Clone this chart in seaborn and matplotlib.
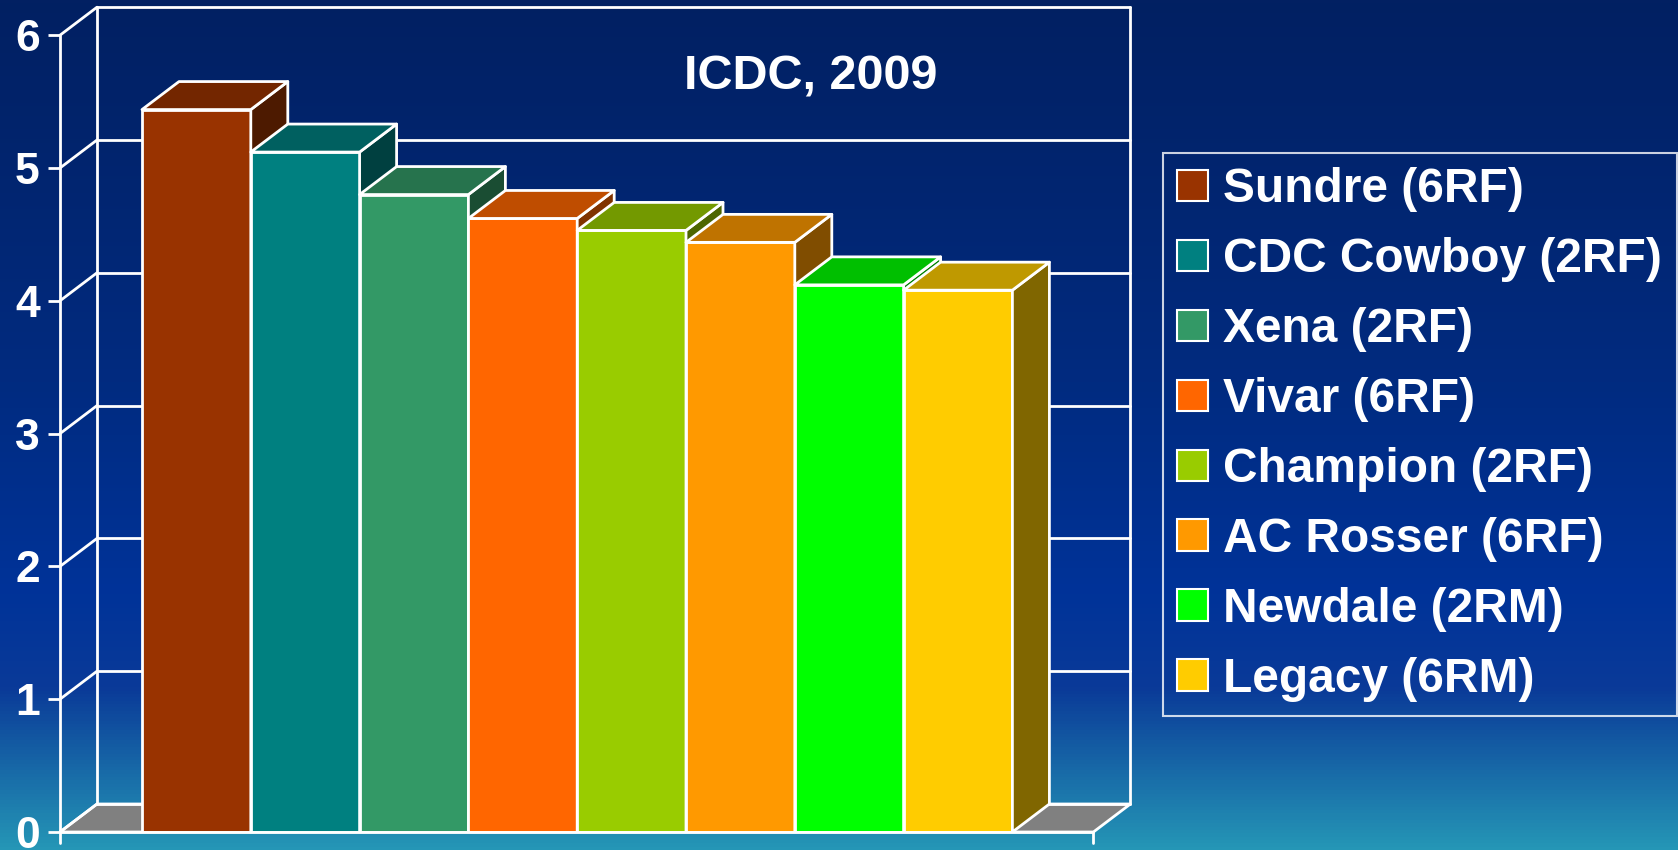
import numpy as np
import pandas as pd
import matplotlib
matplotlib.use("Agg")
import matplotlib.pyplot as plt
from matplotlib.patches import Polygon, Patch
from matplotlib.colors import LinearSegmentedColormap, to_rgb
import seaborn as sns

# ---------------- data ----------------
varieties = ["Sundre (6RF)", "CDC Cowboy (2RF)", "Xena (2RF)", "Vivar (6RF)",
             "Champion (2RF)", "AC Rosser (6RF)", "Newdale (2RM)", "Legacy (6RM)"]
values = [5.44, 5.12, 4.80, 4.62, 4.53, 4.44, 4.12, 4.08]
bar_colors = ["#993300", "#008080", "#339966", "#FF6600",
              "#99CC00", "#FF9900", "#00FF00", "#FFCC00"]
yticks = [0, 1, 2, 3, 4, 5, 6]
title = "ICDC, 2009"

df = pd.DataFrame({"variety": varieties, "value": values})

sns.set_theme(style="white")
plt.rcParams["font.family"] = ["Liberation Sans", "DejaVu Sans"]
plt.rcParams["font.weight"] = "bold"

W, H = 1678, 850
fig = plt.figure(figsize=(W / 100, H / 100), dpi=100)

# background gradient
bg = fig.add_axes([0, 0, 1, 1], zorder=-10)
cmap = LinearSegmentedColormap.from_list(
    "bg", [(0.0, "#022062"), (0.45, "#012b80"), (0.70, "#003399"),
           (0.81, "#0a3a98"), (1.0, "#2596b6")])
grad = np.linspace(0, 1, 256).reshape(-1, 1)
bg.imshow(grad, aspect="auto", cmap=cmap, extent=[0, 1, 0, 1], origin="upper")
bg.set_axis_off()

# geometry (pixels -> data)
ux, uy = 108.8, 132.8          # px per data unit
x0px, y0px = 60, 832           # front-left origin in pixels (from top)
xmin = -0.5 - (142 - x0px) / ux
xmax_front = 7.5 + (1093 - 1012) / ux
DX, DY = 37 / ux, 28 / uy      # depth offset in data units
xmax = xmax_front + DX
ymax = 6 + DY

left = x0px / W
bottom = (H - y0px) / H
width = (xmax - xmin) * ux / W
height = ymax * uy / H
ax = fig.add_axes([left, bottom, width, height])
ax.set_facecolor("none")

sns.barplot(data=df, x="variety", y="value", hue="variety", palette=bar_colors,
            width=1.0, edgecolor="white", linewidth=2, legend=False, ax=ax,
            saturation=1)

ax.set_xlim(xmin, xmax)
ax.set_ylim(0, ymax)
for s in ax.spines.values():
    s.set_visible(False)
ax.set_xticks([])
ax.set_xlabel("")
ax.set_ylabel("")
ax.set_yticks(yticks)
ax.set_yticklabels([str(t) for t in yticks], color="white", fontsize=32,
                   fontweight="bold")
ax.tick_params(axis="y", length=8.6, width=2, color="white", pad=6, left=True)

lw = 2
wc = "white"
# floor
ax.add_patch(Polygon([(xmin, 0), (xmax_front, 0), (xmax, DY), (xmin + DX, DY)],
                     closed=True, facecolor="#808080", edgecolor=wc, lw=lw,
                     zorder=1, clip_on=False))
# back wall gridlines and frame
for t in yticks:
    ax.plot([xmin + DX, xmax], [t + DY, t + DY], color=wc, lw=lw, zorder=2,
            clip_on=False)
    ax.plot([xmin, xmin + DX], [t, t + DY], color=wc, lw=lw, zorder=2,
            clip_on=False)
ax.plot([xmin + DX, xmin + DX], [DY, 6 + DY], color=wc, lw=lw, zorder=2, clip_on=False)
ax.plot([xmax, xmax], [DY, 6 + DY], color=wc, lw=lw, zorder=2, clip_on=False)
# front axis line (extends a bit below zero)
ax.plot([xmin, xmin], [-11 / uy, 6], color=wc, lw=lw, zorder=2, clip_on=False)
ax.plot([xmin, xmax_front], [0, 0], color=wc, lw=lw, zorder=40, clip_on=False)
ax.plot([xmax_front, xmax_front], [-11 / uy, 0], color=wc, lw=lw, zorder=40,
        clip_on=False)


def shade(c, f):
    r, g, b = to_rgb(c)
    return (r * f, g * f, b * f)


# 3-D faces for each bar
for i, (patch, v, c) in enumerate(zip(ax.patches, values, bar_colors)):
    z = 10 + 3 * i
    patch.set_zorder(z)
    xl = patch.get_x()
    xr = xl + patch.get_width()
    top = Polygon([(xl, v), (xr, v), (xr + DX, v + DY), (xl + DX, v + DY)],
                  closed=True, facecolor=shade(c, 0.75), edgecolor=wc, lw=lw,
                  zorder=z + 1, joinstyle="round")
    side = Polygon([(xr, 0), (xr + DX, DY), (xr + DX, v + DY), (xr, v)],
                   closed=True, facecolor=shade(c, 0.5), edgecolor=wc, lw=lw,
                   zorder=z + 1, joinstyle="round")
    ax.add_patch(side)
    ax.add_patch(top)

ax.text(xmin + (811 - x0px) / ux, (y0px - 77) / uy, title, color="white",
        fontsize=35, fontweight="bold", ha="center", va="center", zorder=5)

handles = [Patch(facecolor=c, edgecolor="white", lw=1.5) for c in bar_colors]
leg = fig.legend(handles, varieties, loc="upper left",
                 bbox_to_anchor=(1163 / W, 1 - 153 / H), frameon=True,
                 fontsize=34.5, handlelength=0.63, handleheight=0.63,
                 handletextpad=0.33, labelspacing=0.52, borderpad=0.3,
                 borderaxespad=0, fancybox=False)
leg.get_frame().set_facecolor("none")
leg.get_frame().set_edgecolor("white")
leg.get_frame().set_linewidth(1.5)
for t in leg.get_texts():
    t.set_color("white")
    t.set_fontweight("bold")

fig.savefig("out.png", dpi=100)
